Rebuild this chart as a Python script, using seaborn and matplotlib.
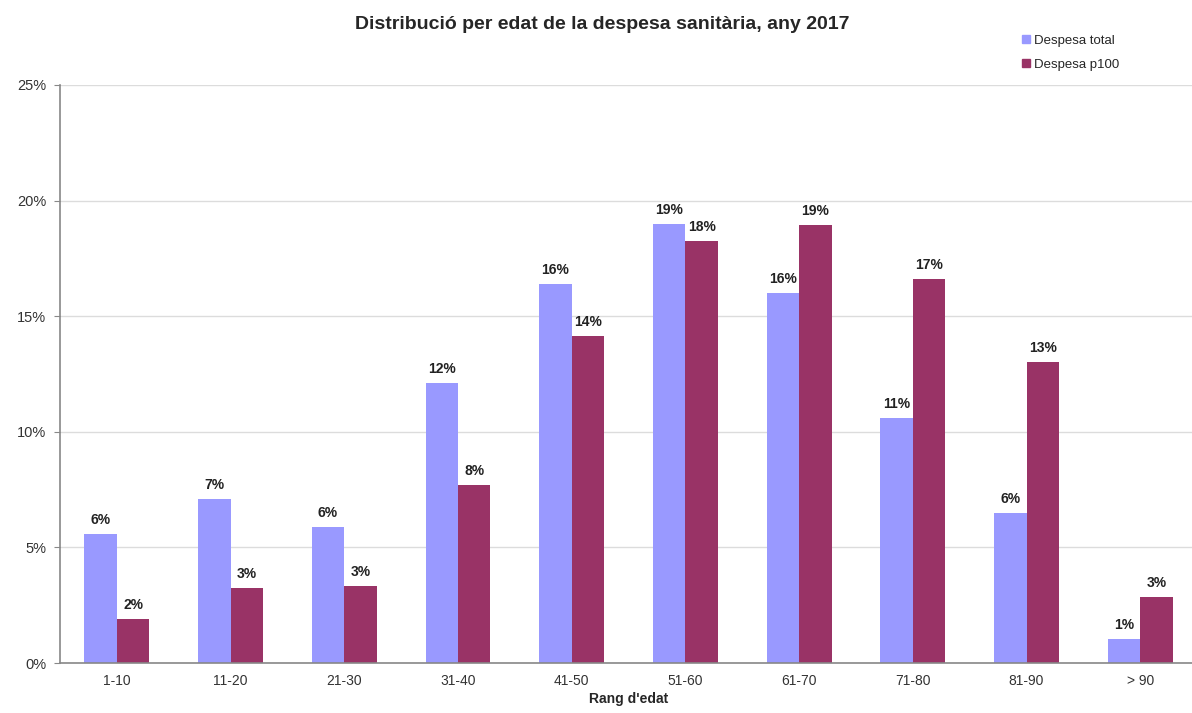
import numpy as np
import pandas as pd
import seaborn as sns
import matplotlib.pyplot as plt
from matplotlib.ticker import PercentFormatter

# Data (percent of spending per age range)
age_ranges = ["1-10", "11-20", "21-30", "31-40", "41-50",
              "51-60", "61-70", "71-80", "81-90", "> 90"]
despesa_total = [5.6, 7.1, 5.9, 12.1, 16.4, 19.0, 16.0, 10.6, 6.5, 1.05]
despesa_p100 = [1.9, 3.25, 3.35, 7.7, 14.15, 18.25, 18.95, 16.6, 13.0, 2.85]
series_names = ["Despesa total", "Despesa p100"]

df = pd.DataFrame({
    "rang": age_ranges * 2,
    "valor": despesa_total + despesa_p100,
    "serie": [series_names[0]] * len(age_ranges) + [series_names[1]] * len(age_ranges),
})

sns.set_style("white")
plt.rcParams["font.family"] = ["Liberation Sans", "DejaVu Sans"]

fig = plt.figure(figsize=(11.92, 7.13), dpi=100)
ax = fig.add_axes([0.0503, 0.0701, 0.954, 0.8107])

sns.barplot(data=df, x="rang", y="valor", hue="serie", order=age_ranges,
            hue_order=series_names, palette=["#9999FF", "#993366"],
            width=0.57, saturation=1, linewidth=0, ax=ax, legend=False,
            errorbar=None)

for cont in ax.containers:
    ax.bar_label(cont, labels=[f"{v:.0f}%" for v in cont.datavalues],
                 padding=5, fontsize=10, fontweight="bold", color="#222222")

ax.set_ylim(0, 25)
ax.set_xlim(-0.5, len(age_ranges) - 0.5)
ax.set_yticks(np.arange(0, 26, 5))
ax.yaxis.set_major_formatter(PercentFormatter(decimals=0))
ax.yaxis.grid(True, color="#dcdcdc", linewidth=1)
ax.set_axisbelow(True)

# tick marks between categories, like the original
ax.set_xticks(np.arange(-0.5, len(age_ranges), 1), minor=True)
ax.tick_params(axis="x", which="major", length=0, pad=8, labelsize=10, colors="#333333")
ax.tick_params(axis="x", which="minor", length=4, color="#888888", direction="out")
ax.tick_params(axis="y", length=4, color="#888888", labelsize=10.5, colors="#333333",
               left=True, pad=6)

for side in ["top", "right"]:
    ax.spines[side].set_visible(False)
for side in ["left", "bottom"]:
    ax.spines[side].set_color("#888888")
    ax.spines[side].set_linewidth(1.2)

ax.set_xlabel("Rang d'edat", fontsize=10, fontweight="bold", labelpad=3)
ax.set_ylabel("")

fig.suptitle("Distribució per edat de la despesa sanitària, any 2017",
             x=0.505, y=0.978, fontsize=14, fontweight="bold")

handles = [plt.Line2D([], [], marker="s", linestyle="", markersize=6, color=c)
           for c in ["#9999FF", "#993366"]]
fig.legend(handles, series_names, loc="upper left", bbox_to_anchor=(0.845, 0.968),
           frameon=False, fontsize=9.5, handletextpad=0.1, labelspacing=0.9,
           handlelength=1.0)

fig.savefig("out.png", dpi=100)
